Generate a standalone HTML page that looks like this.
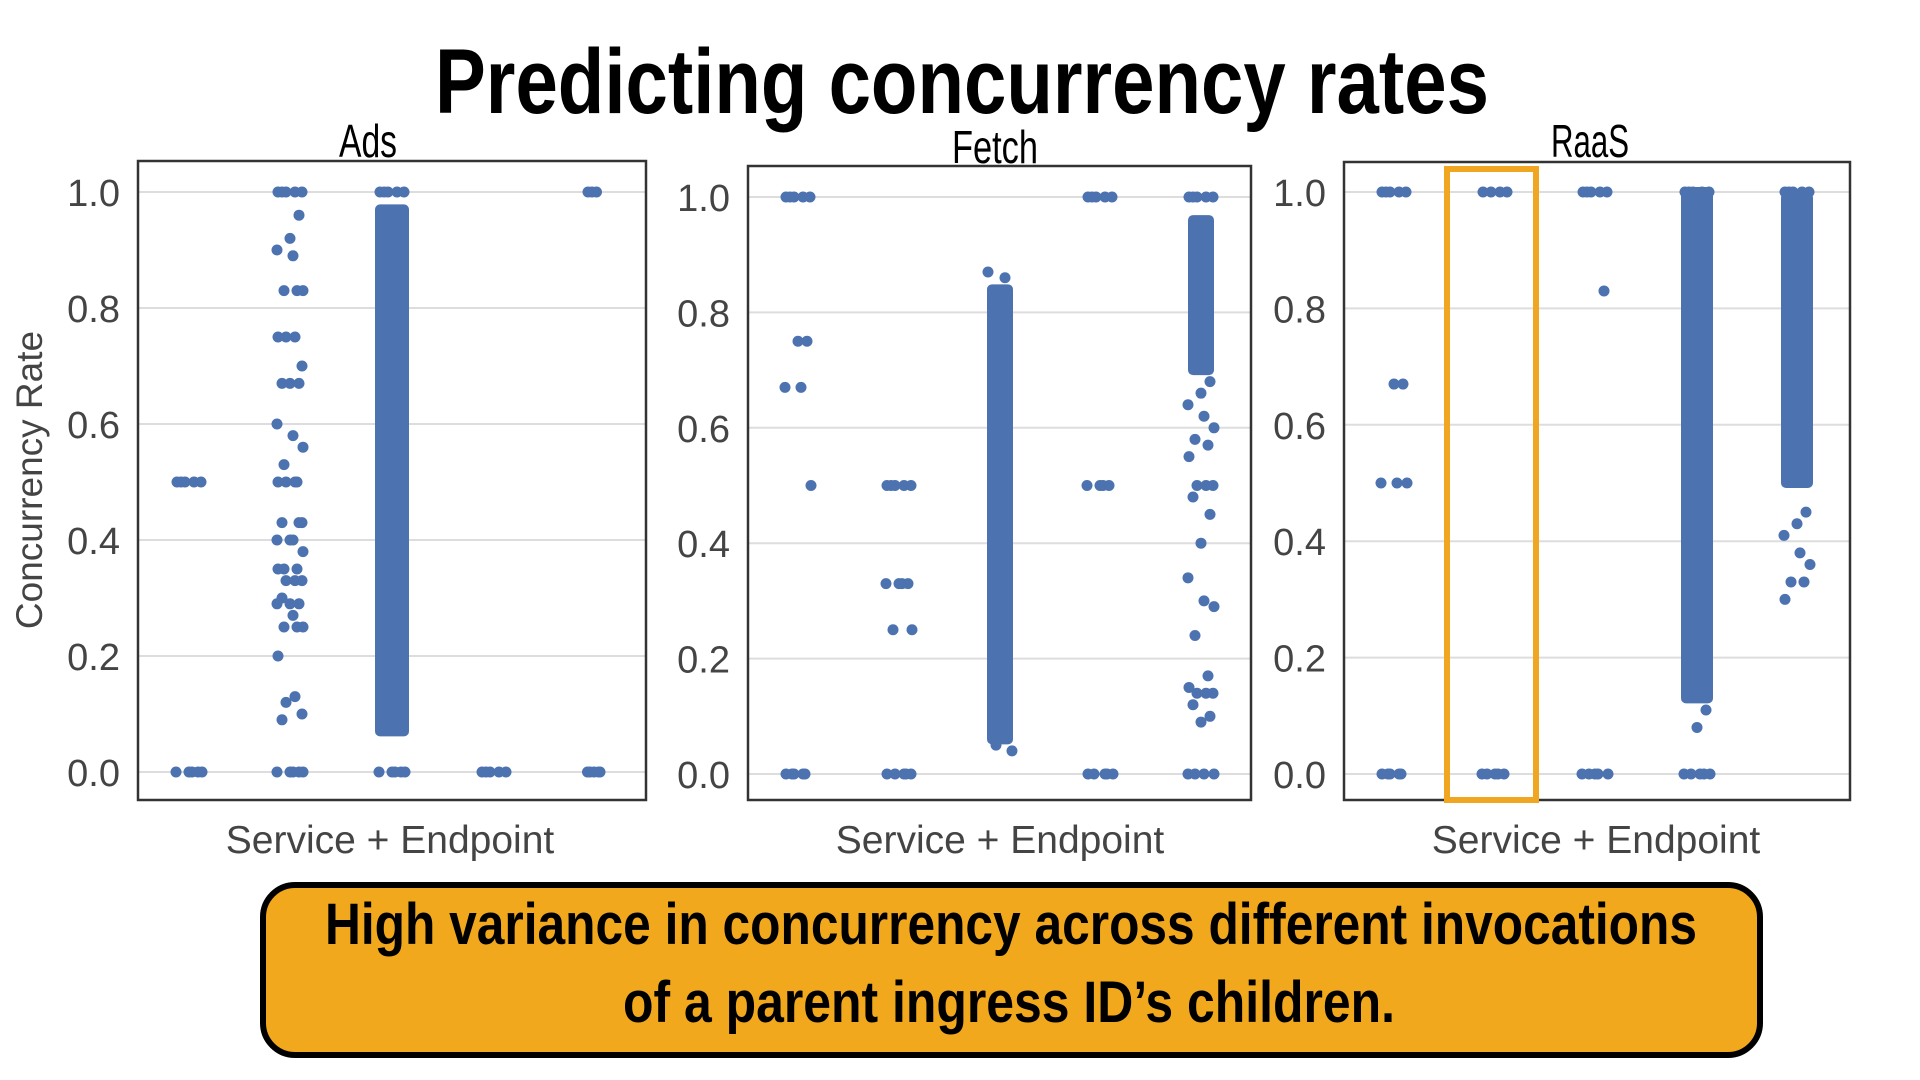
<!DOCTYPE html>
<html><head><meta charset="utf-8"><style>
html,body{margin:0;padding:0;background:#fff;}
svg{display:block;}
</style></head><body>
<svg id="chart" width="1920" height="1080" viewBox="0 0 1920 1080" font-family="'Liberation Sans', sans-serif">
<text x="962" y="113" text-anchor="middle" font-size="92" font-weight="bold" textLength="1054" lengthAdjust="spacingAndGlyphs">Predicting concurrency rates</text>
<text transform="translate(42,480) rotate(-90)" text-anchor="middle" font-size="37" fill="#444">Concurrency Rate</text>
<g id="panels"></g>
<rect x="1447" y="169" width="89" height="631" fill="none" stroke="#f0a620" stroke-width="6"/>
<rect x="263" y="885" width="1497" height="170" rx="32" fill="#f2a81d" stroke="#000" stroke-width="6"/>
<text x="1011" y="944" text-anchor="middle" font-size="58" font-weight="bold" textLength="1372" lengthAdjust="spacingAndGlyphs">High variance in concurrency across different invocations</text>
<text x="1009" y="1022" text-anchor="middle" font-size="58" font-weight="bold" textLength="772" lengthAdjust="spacingAndGlyphs">of a parent ingress ID’s children.</text>
</svg>
<script>
const panelTitles = ["Ads", "Fetch", "RaaS"];
const yTicks = [0, 0.2, 0.4, 0.6, 0.8, 1.0];
const yTickLabels = ["0.0", "0.2", "0.4", "0.6", "0.8", "1.0"];
const categories = ["s1", "s2", "s3", "s4", "s5"];
// sparse point values per panel, per category
const adsPoints = [
  [0.5,0.5,0.5,0.5,0.5,0,0,0,0,0],
  [1,1,1,1,1,0.96,0.92,0.9,0.89,0.83,0.83,0.83,0.75,0.75,0.75,0.7,0.67,0.67,0.67,0.6,0.58,0.56,0.53,0.5,0.5,0.5,0.5,0.43,0.43,0.43,0.4,0.4,0.4,0.38,0.35,0.35,0.35,0.33,0.33,0.33,0.3,0.29,0.29,0.29,0.27,0.25,0.25,0.25,0.2,0.13,0.12,0.1,0.09,0,0,0,0,0],
  [1,1,1,1,1,0,0,0,0,0],
  [0,0,0,0,0],
  [1,1,1,0,0,0,0,0]
];
const fetchPoints = [
  [1,1,1,1,1,0.75,0.75,0.67,0.67,0.5,0,0,0,0,0],
  [0.5,0.5,0.5,0.5,0.5,0.33,0.33,0.33,0.33,0.25,0.25,0,0,0,0,0],
  [0.87,0.86,0.05,0.04],
  [1,1,1,1,1,0.5,0.5,0.5,0.5,0,0,0,0,0],
  [1,1,1,1,1,0.68,0.66,0.64,0.62,0.6,0.58,0.57,0.55,0.5,0.5,0.5,0.48,0.45,0.4,0.34,0.3,0.29,0.24,0.17,0.15,0.14,0.14,0.14,0.12,0.1,0.09,0,0,0,0]
];
const raasPoints = [
  [1,1,1,1,1,0.67,0.67,0.5,0.5,0.5,0,0,0,0,0],
  [1,1,1,1,0,0,0,0,0],
  [1,1,1,1,1,0.83,0,0,0,0,0],
  [1,1,1,1,1,0.11,0.08,0,0,0,0,0],
  [1,1,1,1,1,0.45,0.43,0.41,0.38,0.36,0.33,0.33,0.3]
];
// dense bands [category index, low, high]
const adsBands = [[2,0.07,0.97]];
const fetchBands = [[2,0.06,0.84],[4,0.7,0.96]];
const raasBands = [[3,0.13,1.0],[4,0.5,0.99]];

const layout = [
  {x0:138,x1:646,top:161,y1:192,y0:772,cx:[189,290,392,494,594],tx:368,ty:142,tw:58,lx:390,bw:17},
  {x0:748,x1:1251,top:166,y1:197,y0:774,cx:[798,899,1000,1100,1201],tx:995,ty:148,tw:86,lx:1000,bw:13},
  {x0:1344,x1:1850,top:162,y1:192,y0:774,cx:[1394,1495,1595,1697,1797],tx:1590,ty:142,tw:78,lx:1596,bw:16}
];
const allPoints=[adsPoints,fetchPoints,raasPoints];
const allBands=[adsBands,fetchBands,raasBands];
const NS="http://www.w3.org/2000/svg";
const root=document.getElementById('panels');
function mk(tag,attrs,parent){const e=document.createElementNS(NS,tag);for(const k in attrs)e.setAttribute(k,attrs[k]);parent.appendChild(e);return e;}
const jit=[-12,5,-4,12,-8,9,0,-13,3,13,-6,7];
panelTitles.forEach((t,p)=>{
  const L=layout[p];
  const y=v=>L.y0+(L.y1-L.y0)*v;
  const g=mk('g',{},root);
  
  
  yTicks.forEach((v,i)=>{
    const gl=mk('line',{x1:L.x0,x2:L.x1,y1:y(v),y2:y(v),stroke:'#ddd','stroke-width':2},g);
    
    
    const tl=mk('text',{x:L.x0-18,y:y(v)+14,'text-anchor':'end','font-size':38,fill:'#444'},g);
    
    
    tl.textContent=yTickLabels[i];
  });
  const fr=mk('rect',{x:L.x0,y:L.top,width:L.x1-L.x0,height:800-L.top,fill:'none',stroke:'#333','stroke-width':2.5},g);
  
  
  allBands[p].forEach(b=>{
    const cx=L.cx[b[0]];const hw=L.bw;
    const r=mk('rect',{x:cx-hw,y:y(b[2])-5,width:hw*2,height:y(b[1])-y(b[2])+10,rx:5,fill:'#4c72b0'},g);
    
    
  });
  allPoints[p].forEach((vals,c)=>{
    vals.forEach((v,i)=>{
      const hw=(p===0&&c===4)?0.5:1;
      const d=mk('circle',{cx:L.cx[c]+jit[i%jit.length]*hw,cy:y(v),r:5.5,fill:'#4c72b0'},g);
      
      
    });
  });
  const st=mk('text',{x:L.tx,y:L.ty+15,'text-anchor':'middle','font-size':46,textLength:L.tw,lengthAdjust:'spacingAndGlyphs'},g);
  
  
  st.textContent=t;
  const xl=mk('text',{x:L.lx,y:853,'text-anchor':'middle','font-size':39,fill:'#444'},g);
  
  
  xl.textContent='Service + Endpoint';
});
</script>
</body></html>
